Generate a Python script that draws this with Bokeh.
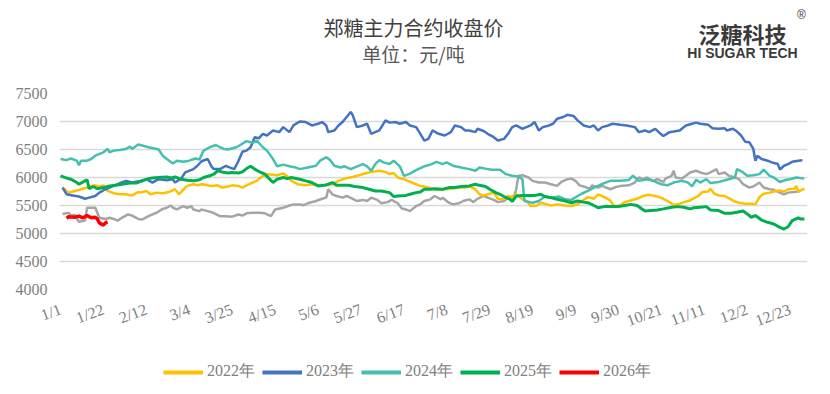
from bokeh.plotting import figure
from bokeh.layouts import column
from bokeh.models import Range1d, FixedTicker, Legend, LegendItem
from bokeh.core.properties import value
from bokeh.embed import file_html
from bokeh.resources import INLINE

# ---- data (day index from 1/1 on a 366-day calendar, closing price) ----
tick_days = [0, 21, 42, 63, 84, 105, 126, 147, 168, 189, 210, 231, 252, 273, 294, 315, 336, 357]
tick_labels = ["1/1", "1/22", "2/12", "3/4", "3/25", "4/15", "5/6", "5/27", "6/17",
               "7/8", "7/29", "8/19", "9/9", "9/30", "10/21", "11/11", "12/2", "12/23"]
y_ticks = [4000, 4500, 5000, 5500, 6000, 6500, 7000, 7500]

prior = [(1,5350),(4,5370),(5,5320),(7,5330),(9,5210),(12,5230),(13,5460),(15,5460),(17,5460),(19,5280),
         (22,5260),(24,5280),(26,5260),(28,5230),(30,5280),(33,5340),(35,5320),(38,5260),(40,5250),(43,5310),
         (47,5370),(50,5440),(52,5460),(54,5500),(55,5460),(57,5430),(60,5490),(62,5460),(64,5490),(65,5430),
         (68,5400),(69,5430),(72,5400),(74,5380),(78,5310),(81,5310),(84,5300),(87,5340),(89,5320),(91,5360),
         (94,5370),(97,5370),(100,5360),(103,5310),(105,5430),(109,5460),(112,5500),(114,5520),(117,5520),
         (119,5505),(121,5540),(125,5580),(128,5620),(130,5640),(131,5790),(133,5700),(135,5670),(138,5640),
         (140,5670),(143,5620),(145,5580),(148,5600),(150,5580),(152,5640),(155,5600),(157,5540),(160,5560),
         (162,5600),(165,5540),(167,5445),(169,5430),(171,5400),(174,5490),(176,5520),(178,5580),(181,5610),
         (183,5670),(186,5610),(187,5640),(190,5550),(192,5520),(195,5540),(197,5580),(200,5610),(202,5560),
         (204,5620),(207,5670),(209,5640),(212,5600),(214,5560),(217,5580),(219,5640),(222,5670),(223,5790),
         (224,6030),(226,6040),(229,6000),(231,5940),(234,5910),(237,5910),(240,5880),(243,5850),(245,5920),
         (248,5970),(250,5980),(252,5940),(254,5860),(256,5840),(259,5800),(260,5860),(263,5820),(265,5850),
         (269,5790),(271,5820),(274,5850),(278,5860),(281,5910),(283,6000),(285,5970),(287,6000),(290,5940),
         (292,5970),(295,5920),(296,5980),(299,6030),(300,6120),(301,6000),(304,5980),(306,6030),(308,6090),
         (311,6120),(313,6090),(316,6060),(318,6090),(321,6150),(322,6060),(325,6090),(327,6030),(330,6000),
         (332,5970),(334,5880),(337,5820),(339,5840),(342,5910),(344,5820),(347,5790),(349,5780),(352,5730),
         (354,5700),(356,5730),(359,5740),(362,5760)]

y2022 = [(1,5820),(4,5730),(7,5760),(10,5790),(13,5820),(15,5850),(17,5860),(19,5840),(21,5860),(23,5760),
         (26,5720),(29,5700),(32,5700),(35,5680),(38,5740),(39,5730),(42,5760),(44,5700),(47,5730),(50,5720),
         (53,5740),(56,5790),(58,5700),(61,5820),(62,5850),(65,5880),(67,5860),(69,5880),(72,5860),(74,5850),
         (77,5860),(79,5820),(82,5840),(84,5860),(87,5850),(89,5820),(91,5860),(94,5910),(96,5940),(99,6030),
         (101,6060),(104,6050),(106,6040),(109,6070),(111,6020),(113,5940),(116,5880),(120,5860),(123,5880),
         (126,5860),(130,5860),(133,5880),(136,5940),(139,5980),(143,6010),(146,6040),(149,6070),(152,6100),
         (156,6120),(159,6100),(161,6060),(163,6080),(165,6000),(168,5970),(170,5940),(174,5880),(176,5850),
         (178,5840),(182,5800),(185,5780),(188,5790),(191,5800),(195,5820),(198,5820),(200,5840),(203,5790),
         (205,5700),(207,5680),(209,5700),(212,5730),(214,5620),(217,5610),(219,5670),(221,5640),(223,5700),
         (226,5610),(228,5580),(230,5490),(233,5500),(235,5550),(238,5520),(240,5500),(243,5520),(247,5500),
         (250,5490),(253,5520),(256,5600),(258,5650),(261,5620),(263,5700),(266,5650),(269,5590),(271,5470),
         (274,5510),(276,5560),(279,5590),(282,5620),(286,5680),(288,5690),(291,5670),(293,5650),(295,5620),
         (298,5560),(300,5510),(303,5530),(305,5560),(308,5590),(312,5670),(314,5740),(317,5750),(318,5800),
         (320,5710),(322,5680),(325,5670),(327,5630),(330,5570),(332,5550),(335,5530),(338,5530),(340,5520),
         (342,5650),(344,5710),(347,5730),(349,5750),(352,5770),(354,5750),(356,5790),(359,5800),(360,5850),
         (361,5750),(364,5800)]

y2023 = [(1,5820),(3,5700),(6,5680),(9,5660),(12,5620),(14,5640),(17,5670),(19,5730),(22,5790),(26,5850),
         (29,5900),(32,5940),(35,5910),(39,5940),(42,5970),(45,5910),(48,5970),(52,5950),(55,5970),(56,5910),
         (59,5980),(61,6090),(65,6150),(67,6210),(69,6290),(72,6330),(74,6190),(75,6150),(78,6150),(81,6210),
         (82,6190),(85,6150),(87,6290),(89,6460),(91,6480),(93,6540),(95,6720),(97,6700),(99,6780),(101,6750),
         (104,6840),(107,6810),(109,6900),(112,6810),(114,6930),(117,7000),(120,6990),(123,6930),(126,6960),
         (128,6990),(130,6930),(131,6810),(134,6840),(136,6930),(138,6990),(140,7080),(142,7170),(143,7110),
         (145,6900),(148,6930),(150,6960),(152,6780),(154,6810),(156,6840),(157,6900),(159,7020),(161,6980),
         (164,6990),(166,6960),(169,6990),(171,6930),(174,6900),(175,6840),(177,6720),(178,6660),(180,6690),
         (182,6840),(185,6780),(188,6750),(191,6810),(193,6930),(196,6900),(198,6840),(200,6840),(203,6810),
         (204,6870),(207,6830),(209,6780),(212,6720),(214,6660),(217,6690),(219,6780),(221,6900),(223,6930),
         (226,6870),(228,6900),(230,6930),(232,6990),(234,6840),(236,6900),(239,6930),(241,6960),(243,7050),
         (246,7080),(248,7120),(251,7100),(253,7020),(256,6930),(259,6900),(261,6930),(263,6840),(265,6900),
         (268,6930),(270,6960),(274,6940),(277,6930),(281,6900),(283,6810),(286,6840),(288,6810),(291,6870),
         (293,6800),(295,6740),(298,6810),(300,6820),(303,6840),(304,6870),(306,6930),(309,6960),(311,6980),
         (313,6960),(317,6940),(319,6880),(322,6870),(325,6880),(326,6840),(329,6870),(331,6820),(333,6750),
         (335,6640),(337,6630),(339,6510),(340,6300),(341,6390),(343,6330),(346,6300),(348,6270),(351,6240),
         (352,6140),(354,6210),(356,6240),(358,6280),(361,6300),(363,6310)]

y2024 = [(0,6330),(3,6310),(5,6340),(8,6300),(9,6220),(10,6300),(13,6300),(15,6330),(17,6390),(21,6450),
         (23,6510),(24,6450),(26,6480),(29,6490),(32,6510),(34,6550),(35,6510),(38,6590),(40,6570),(43,6540),
         (47,6510),(48,6500),(50,6390),(52,6330),(55,6250),(57,6300),(60,6280),(63,6300),(66,6340),(68,6320),
         (70,6480),(73,6540),(76,6580),(78,6540),(80,6510),(82,6500),(86,6540),(88,6580),(91,6650),(94,6620),
         (96,6660),(99,6540),(101,6480),(104,6330),(106,6200),(109,6230),(112,6200),(115,6180),(117,6150),
         (121,6180),(125,6210),(127,6300),(130,6360),(132,6310),(134,6210),(137,6180),(139,6200),(142,6150),
         (144,6180),(148,6240),(150,6200),(152,6120),(154,6240),(156,6310),(158,6270),(161,6240),(163,6300),
         (166,6200),(168,6030),(171,6070),(174,6130),(178,6200),(181,6230),(184,6280),(187,6240),(189,6270),
         (192,6210),(196,6180),(200,6150),(203,6120),(205,6180),(209,6150),(211,6140),(215,6140),(218,6060),
         (221,6030),(224,6020),(226,5970),(227,5580),(231,5550),(234,5580),(237,5660),(240,5640),(244,5660),
         (247,5610),(250,5600),(253,5670),(255,5710),(258,5760),(261,5820),(266,5900),(269,5940),(274,5940),
         (278,5955),(280,6030),(283,5940),(287,5970),(290,5940),(294,5880),(297,5860),(300,5910),(304,5940),
         (307,5910),(309,5840),(311,5960),(313,5910),(316,5970),(318,5900),(322,5920),(324,5940),(326,5960),
         (330,6000),(331,6150),(334,6090),(336,6030),(339,6040),(342,6060),(344,6140),(347,6030),(349,6000),
         (352,5920),(355,5960),(357,5970),(360,6000),(364,5980)]

y2025 = [(0,6030),(3,5990),(5,5970),(8,5910),(9,5880),(12,5940),(13,5960),(14,5800),(16,5840),(18,5800),
         (21,5820),(24,5850),(27,5860),(30,5880),(34,5900),(37,5900),(40,5940),(43,5980),(45,5990),(48,6000),
         (52,6010),(54,5990),(56,6010),(59,5970),(62,5950),(65,5940),(68,5960),(70,6000),(73,6030),(75,6060),
         (77,6120),(79,6100),(82,6080),(84,6090),(87,6080),(89,6100),(91,6160),(93,6200),(95,6150),(98,6090),
         (100,6060),(101,6020),(104,5910),(106,5970),(109,6000),(111,5980),(113,6000),(117,5970),(120,5940),
         (123,5910),(126,5850),(129,5860),(131,5880),(133,5910),(135,5860),(138,5860),(141,5860),(144,5840),
         (148,5820),(151,5790),(154,5760),(157,5760),(161,5730),(163,5660),(165,5670),(169,5680),(171,5700),
         (174,5730),(176,5740),(178,5790),(181,5790),(183,5800),(187,5790),(190,5820),(193,5820),(196,5840),
         (200,5850),(203,5880),(205,5860),(208,5840),(210,5790),(213,5730),(215,5700),(217,5660),(220,5610),
         (221,5570),(223,5670),(226,5680),(229,5680),(232,5680),(235,5700),(237,5660),(240,5640),(243,5610),
         (247,5580),(250,5550),(253,5580),(256,5560),(258,5550),(261,5500),(263,5460),(266,5480),(269,5480),
         (273,5480),(276,5500),(279,5520),(282,5500),(284,5450),(286,5400),(289,5410),(292,5420),(295,5440),
         (299,5470),(302,5480),(305,5470),(308,5440),(310,5460),(313,5470),(316,5480),(318,5420),(322,5410),
         (325,5360),(328,5360),(331,5380),(334,5400),(336,5350),(338,5290),(340,5320),(343,5240),(346,5200),
         (349,5170),(352,5110),(354,5080),(356,5120),(358,5230),(361,5280),(362,5260),(364,5260)]

y2026 = [(3,5270),(4,5300),(7,5290),(9,5310),(11,5280),(13,5320),(14,5300),(15,5280),(17,5290),(18,5260),
         (19,5190),(21,5150),(22,5190),(23,5210)]

series = [
    ("2022年", y2022, "#FFC000", 2.5),
    ("2023年", y2023, "#4472C4", 2.5),
    ("2024年", y2024, "#45BFAE", 2.5),
    ("2025年", y2025, "#00B050", 3),
    ("2026年", y2026, "#FF0000", 3.5),
]

title_text = "郑糖主力合约收盘价"
subtitle_text = "单位：元/吨"
logo_text = "泛糖科技"
logo_sub = "HI SUGAR TECH"

GRAY_TXT = "#808080"
SERIF = "Liberation Serif"
CJK = "Noto Sans CJK SC"
W = 821
NAN = float("nan")
# the column aligns every child's frame with the chart frame (page x 60..808)
FRAME_X0, FRAME_X1 = 60, 808


def blank_fig(h):
    f = figure(width=W, height=h, output_backend="svg", toolbar_location=None,
               x_range=Range1d(FRAME_X0, FRAME_X1), y_range=Range1d(h, 0),
               x_axis_type=None, y_axis_type=None,
               min_border_left=0, min_border_right=0, min_border_top=0, min_border_bottom=0)
    f.outline_line_color = None
    f.grid.grid_line_color = None
    return f


# ---------------- header (title + logo) ----------------
hdr = blank_fig(83)
hdr.text(x=[414], y=[27], text=[title_text], text_font=value(CJK), text_font_size="20px",
         text_color="#404040", text_align="center", text_baseline="middle")
hdr.text(x=[414], y=[53], text=[subtitle_text], text_font=value(CJK), text_font_size="19px",
         text_color="#595959", text_align="center", text_baseline="middle")
hdr.text(x=[743], y=[32], text=[logo_text], text_font=value(CJK), text_font_size="22px",
         text_font_style="bold", text_color="#3A3A3A", text_align="center", text_baseline="middle")
hdr.text(x=[743], y=[52], text=[logo_sub], text_font=value("Liberation Sans"), text_font_size="14px",
         text_font_style="bold", text_color="#3A3A3A", text_align="center", text_baseline="middle")
hdr.text(x=[802], y=[14], text=["®"], text_font=value("Liberation Sans"), text_font_size="12px",
         text_color="#3A3A3A", text_align="center", text_baseline="middle")

# ---------------- main chart ----------------
p = figure(width=W, height=256, output_backend="svg", toolbar_location=None,
           x_range=Range1d(-0.5, 365.5), y_range=Range1d(4000, 7500),
           min_border_left=59, min_border_right=14, min_border_top=10, min_border_bottom=50)
p.outline_line_color = None
p.xgrid.grid_line_color = None
p.ygrid.grid_line_color = "#D9D9D9"
p.ygrid.grid_line_width = 1.3

p.yaxis.ticker = FixedTicker(ticks=y_ticks)
p.xaxis.ticker = FixedTicker(ticks=tick_days)
p.xaxis.major_label_overrides = {d: t for d, t in zip(tick_days, tick_labels)}
p.xaxis.major_label_orientation = 0.35
for ax in (p.xaxis, p.yaxis):
    ax.axis_line_color = None
    ax.major_tick_line_color = None
    ax.minor_tick_line_color = None
    ax.major_tick_out = 0
    ax.major_label_text_font = SERIF
    ax.major_label_text_font_size = "16px"
    ax.major_label_text_color = GRAY_TXT
p.yaxis.major_label_standoff = 12
p.xaxis.major_label_standoff = 19

# prior-year grey line (not in legend)
p.line([d for d, _ in prior], [v for _, v in prior], line_color="#A5A5A5", line_width=2.5)
for name, data, color, lw in series:
    p.line([d for d, _ in data], [v for _, v in data], line_color=color, line_width=lw)

# ---------------- footer legend (keys styled like the lines above) ----------------
ftr = blank_fig(45)
items = []
for name, data, color, lw in series:
    key = ftr.line([NAN], [NAN], line_color=color, line_width=4)
    items.append(LegendItem(label=name, renderers=[key]))
legend = Legend(items=items, orientation="horizontal", location=(104, 2),
                glyph_width=40, glyph_height=16, label_standoff=4, spacing=7,
                padding=2, margin=0, border_line_color=None, background_fill_alpha=0,
                label_text_font=SERIF, label_text_font_size="16px", label_text_color=GRAY_TXT)
ftr.add_layout(legend, "center")

layout = column(hdr, p, ftr, spacing=0)
open("out.html", "w").write(file_html(layout, INLINE))
